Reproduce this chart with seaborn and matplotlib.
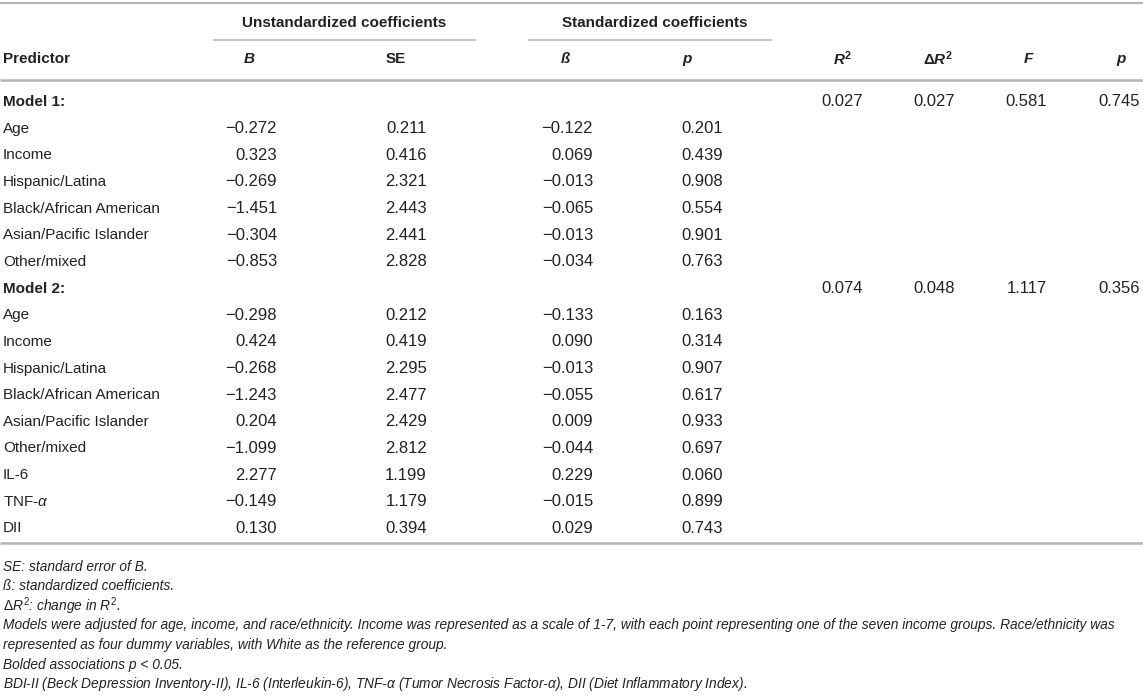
import matplotlib
matplotlib.use("Agg")
import matplotlib.pyplot as plt
import seaborn as sns
import pandas as pd

# ---------------- data ----------------
predictors_m1 = ["Age", "Income", "Hispanic/Latina", "Black/African American",
                 "Asian/Pacific Islander", "Other/mixed"]
B_m1 = [-0.272, 0.323, -0.269, -1.451, -0.304, -0.853]
SE_m1 = [0.211, 0.416, 2.321, 2.443, 2.441, 2.828]
beta_m1 = [-0.122, 0.069, -0.013, -0.065, -0.013, -0.034]
p_m1 = [0.201, 0.439, 0.908, 0.554, 0.901, 0.763]
model1_stats = [0.027, 0.027, 0.581, 0.745]  # R2, dR2, F, p

predictors_m2 = ["Age", "Income", "Hispanic/Latina", "Black/African American",
                 "Asian/Pacific Islander", "Other/mixed", "IL-6", r"TNF-$\alpha$", "DII"]
B_m2 = [-0.298, 0.424, -0.268, -1.243, 0.204, -1.099, 2.277, -0.149, 0.130]
SE_m2 = [0.212, 0.419, 2.295, 2.477, 2.429, 2.812, 1.199, 1.179, 0.394]
beta_m2 = [-0.133, 0.090, -0.013, -0.055, 0.009, -0.044, 0.229, -0.015, 0.029]
p_m2 = [0.163, 0.314, 0.907, 0.617, 0.933, 0.697, 0.060, 0.899, 0.743]
model2_stats = [0.074, 0.048, 1.117, 0.356]

model_labels = ["Model 1:", "Model 2:"]
group_headers = ["Unstandardized coefficients", "Standardized coefficients"]
col_headers = ["Predictor", "B", "SE", "ß", "p",
               r"$\mathbfit{R}^{\mathbf{2}}$",
               r"$\mathbf{\Delta}\mathbfit{R}^{\mathbf{2}}$", "F", "p"]

footnotes = [
    "SE: standard error of B.",
    "ß: standardized coefficients.",
    r"$\Delta\mathit{R}^{2}$: change in $\mathit{R}^{2}$.",
    "Models were adjusted for age, income, and race/ethnicity. Income was represented as a scale of 1-7, with each point representing one of the seven income groups. Race/ethnicity was",
    "represented as four dummy variables, with White as the reference group.",
    "Bolded associations p < 0.05.",
    r"BDI-II (Beck Depression Inventory-II), IL-6 (Interleukin-6), TNF-$\alpha$ (Tumor Necrosis Factor-$\alpha$), DII (Diet Inflammatory Index).",
]

# ---------------- build table frame ----------------
records = []
for lab, stats, preds, B, SE, be, p in [
        (model_labels[0], model1_stats, predictors_m1, B_m1, SE_m1, beta_m1, p_m1),
        (model_labels[1], model2_stats, predictors_m2, B_m2, SE_m2, beta_m2, p_m2)]:
    records.append(dict(label=lab, bold=True, B=None, SE=None, beta=None, p=None,
                        R2=stats[0], dR2=stats[1], F=stats[2], pm=stats[3]))
    for i in range(len(preds)):
        records.append(dict(label=preds[i], bold=False, B=B[i], SE=SE[i], beta=be[i], p=p[i],
                            R2=None, dR2=None, F=None, pm=None))
df = pd.DataFrame(records)

def fmt(v):
    if v is None or pd.isna(v):
        return ""
    return f"{v:.3f}".replace("-", "\u2212")

# ---------------- style ----------------
sns.set_theme(style="white")
plt.rcParams["font.family"] = ["Liberation Sans", "DejaVu Sans"]
plt.rcParams["mathtext.fontset"] = "custom"
plt.rcParams["mathtext.rm"] = "Liberation Sans"
plt.rcParams["mathtext.it"] = "Liberation Sans:italic"
plt.rcParams["mathtext.bf"] = "Liberation Sans:bold"
plt.rcParams["mathtext.bfit"] = "Liberation Sans:bold:italic"

TXT = "#222222"
LINE = "#b5b5b5"
FS = 11
NFS = 12

W, H = 1143, 696
fig = plt.figure(figsize=(W / 100, H / 100), dpi=100)
ax = fig.add_axes([0, 0, 1, 1])
ax.set_xlim(0, W)
ax.set_ylim(H, 0)
ax.axis("off")

# rules
ax.plot([0, W], [3, 3], color=LINE, lw=1.6, solid_capstyle="butt")
ax.plot([0, W], [80, 80], color=LINE, lw=1.8, solid_capstyle="butt")
ax.plot([0, W], [543, 543], color=LINE, lw=1.8, solid_capstyle="butt")
ax.plot([213, 476], [40, 40], color=LINE, lw=1.1, solid_capstyle="butt")
ax.plot([528, 772], [40, 40], color=LINE, lw=1.1, solid_capstyle="butt")

# group headers
ax.text(344, 23, group_headers[0], ha="center", va="center", fontsize=FS,
        fontweight="bold", color=TXT)
ax.text(655, 23, group_headers[1], ha="center", va="center", fontsize=FS,
        fontweight="bold", color=TXT)

# column headers
hy = 59
head_x = [3, 249, 396, 565, 687, 842, 938, 1028, 1121]
head_it = [False, True, False, True, True, False, False, True, True]
for j, (s, x, it) in enumerate(zip(col_headers, head_x, head_it)):
    ax.text(x, hy, s, ha="left" if j == 0 else "center", va="center",
            fontsize=FS, fontweight="bold", style="italic" if it else "normal",
            color=TXT)

# body
y0 = 102
dy = 26.65
num_cols = [("B", 277), ("SE", 427), ("beta", 593), ("p", 723),
            ("R2", 863), ("dR2", 955), ("F", 1047), ("pm", 1140)]
for i, row in df.iterrows():
    y = y0 + i * dy
    ax.text(3, y, row["label"], ha="left", va="center", fontsize=FS, color=TXT,
            fontweight="bold" if row["bold"] else "normal")
    for col, xr in num_cols:
        s = fmt(row[col])
        if s:
            ax.text(xr, y, s, ha="right", va="center", fontsize=NFS, color=TXT)

# footnotes: fit the longest line to its width in the reference
fig.canvas.draw()
r = fig.canvas.get_renderer()
probe = ax.text(0, 0, footnotes[3], fontsize=10, style="italic")
wpx = probe.get_window_extent(renderer=r).width
probe.remove()
ffs = 10 * 1115 / wpx
fy = [567, 586.5, 606, 625.5, 645, 664.5, 684]
for s, y in zip(footnotes, fy):
    ax.text(3, y, s, ha="left", va="center", fontsize=ffs, style="italic", color=TXT)

fig.savefig("out.png", dpi=100)
